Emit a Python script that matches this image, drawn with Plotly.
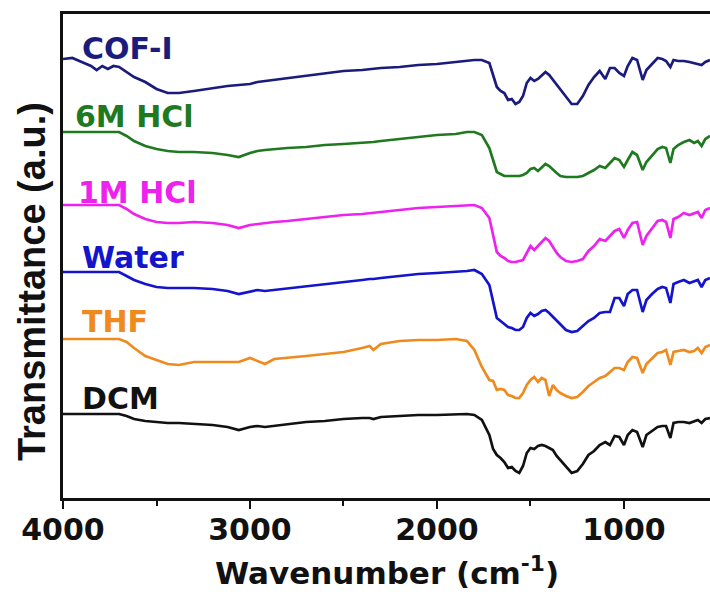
import plotly.graph_objects as go

# Wavenumber grid (cm^-1)
wavenumber = [4000, 3950, 3900, 3850, 3820, 3790, 3760, 3730, 3700, 3660, 3620, 3560, 3500, 3440, 3380,
              3300, 3200, 3120, 3060, 3000, 2960, 2920, 2870, 2800, 2700, 2600, 2500, 2400, 2360, 2340, 2300,
              2200, 2100, 2000, 1900, 1840, 1800, 1760, 1720, 1700, 1680, 1660, 1640, 1620, 1600, 1580, 1560, 1540,
              1520, 1500, 1480, 1460, 1440, 1420, 1400, 1380, 1360, 1340, 1310, 1280, 1250, 1220, 1190, 1160,
              1130, 1100, 1075, 1050, 1025, 1000, 980, 955, 930, 900, 880, 850, 820, 795, 775, 752, 735,
              710, 680, 650, 625, 605, 585, 565, 540]

# Offset transmittance (a.u.)
cof_i = [441, 442, 438, 434, 430, 434, 431, 434, 433, 428, 423, 418, 411, 407, 407,
         409, 412, 414, 415, 416, 418, 419, 420, 422, 424, 427, 429, 430, 431, 431, 432,
         433, 435, 436, 438, 439, 440, 440, 437, 425, 413, 409, 407, 400, 401, 396, 398, 404,
         417, 422, 419, 421, 425, 428, 425, 420, 415, 410, 403, 396, 396, 404, 415, 423,
         429, 421, 432, 432, 427, 424, 434, 442, 440, 420, 430, 436, 442, 441, 439, 433, 440,
         439, 439, 438, 437, 436, 435, 438, 440]
hcl_6m = [368, 368, 368, 368, 368, 368, 368, 368, 368, 364, 359, 354, 351, 349, 348,
          348, 347, 345, 343, 347, 349, 350, 351, 352, 353, 355, 356, 357, 358, 358, 359,
          361, 363, 365, 366, 368, 368, 365, 352, 340, 328, 326, 324, 324, 324, 324, 324, 325,
          327, 331, 332, 329, 333, 336, 334, 330, 327, 324, 323, 323, 323, 324, 327, 330,
          334, 332, 337, 342, 340, 333, 340, 348, 345, 330, 338, 345, 351, 353, 352, 337, 351,
          355, 358, 360, 357, 359, 354, 361, 364]
hcl_1m = [295, 295, 295, 295, 295, 295, 295, 295, 295, 291, 286, 281, 278, 277, 277,
          278, 277, 275, 272, 275, 276, 277, 278, 279, 281, 283, 285, 286, 287, 287, 288,
          290, 292, 293, 294, 295, 295, 292, 282, 265, 248, 244, 242, 239, 238, 238, 239, 240,
          247, 254, 250, 254, 258, 262, 259, 253, 247, 243, 239, 238, 239, 241, 249, 254,
          261, 259, 264, 269, 271, 262, 270, 277, 278, 255, 264, 272, 279, 280, 278, 262, 281,
          283, 287, 285, 287, 288, 282, 290, 292]
water = [228, 228, 228, 228, 228, 228, 228, 228, 228, 224, 220, 216, 213, 212, 212,
         212, 211, 209, 206, 208, 210, 209, 210, 212, 214, 216, 218, 220, 221, 221, 222,
         224, 226, 227, 228, 229, 230, 226, 215, 200, 182, 179, 176, 173, 172, 170, 170, 173,
         182, 187, 184, 186, 189, 190, 187, 183, 179, 175, 170, 168, 169, 174, 179, 182,
         187, 188, 188, 202, 202, 194, 206, 210, 210, 188, 200, 206, 211, 213, 212, 197, 216,
         218, 220, 217, 219, 220, 213, 220, 222]
thf = [161, 161, 161, 161, 161, 161, 161, 161, 161, 158, 152, 144, 140, 136, 135,
       138, 138, 138, 138, 142, 139, 136, 141, 142, 144, 146, 148, 152, 154, 150, 156,
       159, 160, 160, 161, 159, 150, 133, 120, 119, 110, 111, 110, 105, 104, 102, 102, 107,
       115, 120, 123, 118, 122, 120, 104, 115, 110, 107, 104, 102, 103, 108, 114, 118,
       122, 124, 128, 132, 132, 130, 138, 143, 142, 127, 136, 141, 147, 148, 150, 135, 148,
       149, 150, 148, 149, 152, 147, 153, 155]
dcm = [86, 86, 86, 86, 86, 86, 86, 86, 86, 84, 81, 79, 78, 77, 77,
       76, 75, 73, 70, 73, 74, 73, 74, 76, 78, 79, 81, 82, 82, 81, 83,
       84, 85, 85, 86, 86, 85, 80, 65, 51, 45, 42, 38, 32, 33, 29, 27, 34,
       47, 52, 51, 54, 55, 54, 52, 50, 44, 40, 33, 27, 29, 36, 45, 49,
       55, 58, 55, 64, 63, 55, 65, 70, 68, 53, 65, 69, 73, 74, 74, 62, 77,
       78, 78, 77, 79, 80, 77, 81, 82]

series_names = ["COF-I", "6M HCl", "1M HCl", "Water", "THF", "DCM"]
series_values = [cof_i, hcl_6m, hcl_1m, water, thf, dcm]
series_colors = ["#1b1b7e", "#1f7a1f", "#ee22ee", "#1414cc", "#ef8a1f", "#111111"]

tick_vals = [4000, 3000, 2000, 1000]
tick_text = ["4000", "3000", "2000", "1000"]

# label anchor (wavenumber, value) per series
label_pos = [(3909, 452), (3947, 384), (3930, 308), (3909, 243), (3909, 179), (3909, 102)]

fig = go.Figure()
for name, vals, col in zip(series_names, series_values, series_colors):
    fig.add_trace(go.Scatter(x=wavenumber, y=vals, mode="lines", name=name,
                             line=dict(color=col, width=2.7), showlegend=False))

annotations = []
for name, col, (lx, ly) in zip(series_names, series_colors, label_pos):
    annotations.append(dict(x=lx, y=ly, xref="x", yref="y", text=name, showarrow=False,
                            xanchor="left", yanchor="middle",
                            font=dict(family="DejaVu Sans", size=30, color=col, weight="bold")))
annotations.append(dict(x=0.5, y=-0.15, xref="paper", yref="paper",
                        text="Wavenumber (cm<sup>-1</sup>)", showarrow=False,
                        xanchor="center", yanchor="middle",
                        font=dict(family="DejaVu Sans", size=31, color="#111111", weight="bold")))
annotations.append(dict(x=-0.048, y=0.448, xref="paper", yref="paper",
                        text="Transmittance (a.u.)", showarrow=False, textangle=-90,
                        xanchor="center", yanchor="middle",
                        font=dict(family="Liberation Sans", size=38, color="#111111", weight="bold")))

fig.update_layout(
    width=710, height=598,
    margin=dict(l=63, r=0, t=14, b=100),
    plot_bgcolor="white", paper_bgcolor="white",
    annotations=annotations,
    xaxis=dict(range=[4000, 540], tickvals=tick_vals, ticktext=tick_text,
               showline=True, linecolor="#111111", linewidth=2.5, mirror=True,
               ticks="outside", ticklen=8, tickwidth=2, tickcolor="#111111",
               ticklabelstandoff=-5,
               minor=dict(dtick=500, tick0=0, ticks="outside", ticklen=5, tickwidth=2, tickcolor="#111111"),
               showgrid=False, zeroline=False,
               tickfont=dict(family="DejaVu Sans", size=30, color="#111111", weight="bold")),
    yaxis=dict(range=[2, 486], showline=True, linecolor="#111111", linewidth=2.5, mirror=False,
               showticklabels=False, ticks="", showgrid=False, zeroline=False),
)

fig.write_html("out.html", config={"displayModeBar": False},
               post_script="document.body.style.margin='0';document.body.style.padding='0';")
